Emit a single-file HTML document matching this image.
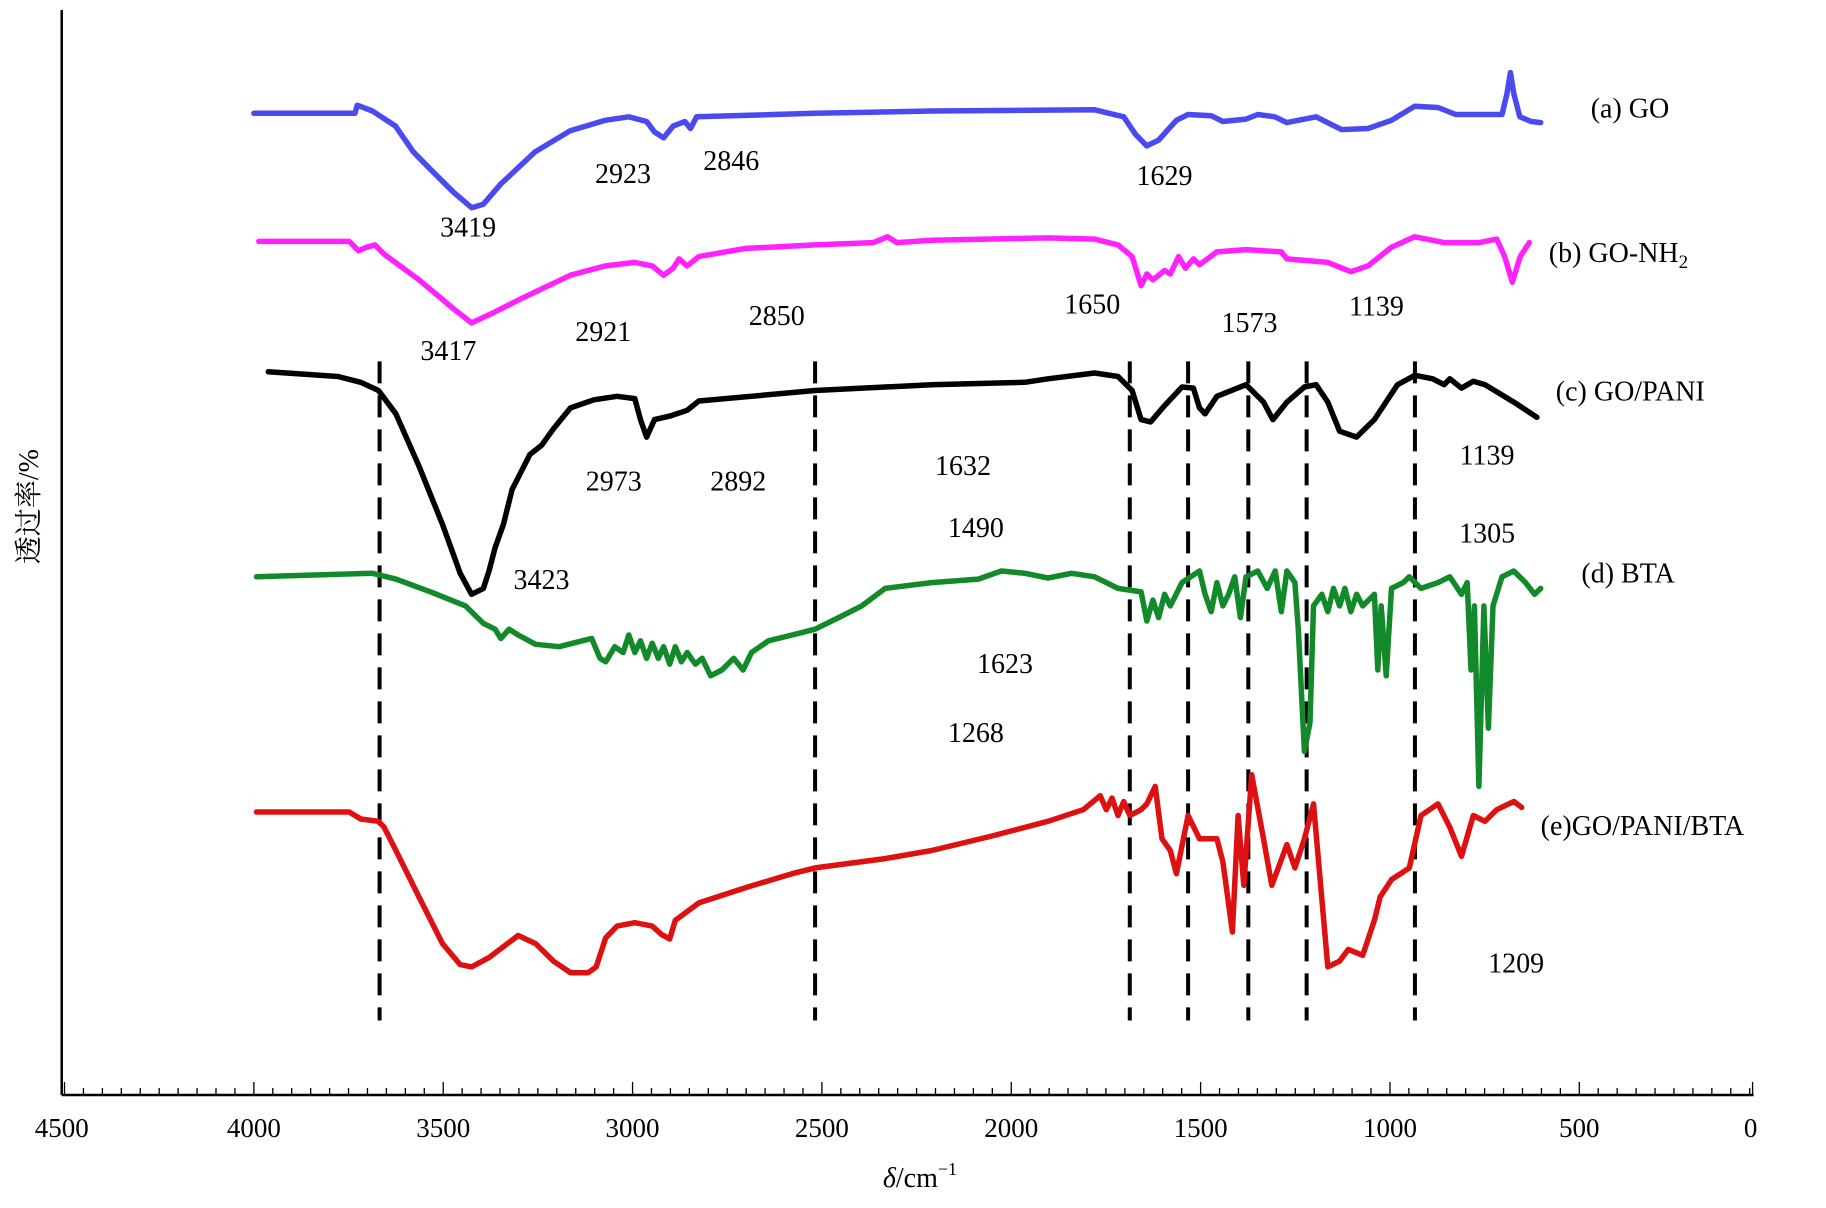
<!DOCTYPE html>
<html><head><meta charset="utf-8"><style>
html,body{margin:0;padding:0;background:#fff;}
svg{display:block;}
text{font-family:"Liberation Serif","Noto Serif CJK SC",serif;fill:#000;}
</style></head><body>
<svg id="c" width="1826" height="1208" viewBox="0 0 1826 1208"></svg>
<script>
const seriesGO=[[4000,843],[3733,843],[3727,850],[3687,845],[3626,832],[3579,810],[3534,795],[3472,775],[3425,762],[3394,765],[3349,782],[3257,810],[3165,828],[3072,837],[3010,840],[2963,836],[2942,827],[2918,822],[2893,832],[2862,836],[2847,830],[2831,840],[2518,843],[2210,845],[1780,846],[1703,840],[1672,825],[1642,815],[1611,820],[1564,837],[1533,842],[1472,841],[1441,836],[1380,838],[1349,842],[1304,840],[1272,835],[1195,840],[1128,829],[1058,830],[996,837],[935,849],[873,848],[826,842],[704,842],[691,860],[682,878],[673,860],[657,840],[627,836],[602,835]];
const seriesGONH2=[[3987,733],[3748,733],[3724,725],[3702,728],[3680,730],[3656,722],[3564,700],[3472,675],[3425,663],[3379,670],[3287,685],[3164,704],[3072,712],[2994,715],[2948,712],[2918,704],[2893,710],[2877,718],[2856,712],[2825,720],[2702,727],[2518,730],[2364,732],[2327,737],[2302,732],[2210,734],[1903,736],[1780,735],[1718,730],[1681,720],[1657,695],[1642,705],[1626,700],[1595,708],[1580,705],[1558,720],[1540,710],[1519,718],[1503,713],[1457,724],[1380,726],[1287,724],[1272,718],[1164,715],[1103,707],[1058,712],[996,728],[935,737],[857,732],[764,732],[718,735],[697,720],[677,698],[656,720],[632,732]];
const seriesGOPANI=[[3962,621],[3778,617],[3718,612],[3671,605],[3625,585],[3564,540],[3502,490],[3455,448],[3425,430],[3394,435],[3379,450],[3363,470],[3341,490],[3318,520],[3271,550],[3240,558],[3209,572],[3164,590],[3102,597],[3041,600],[2994,598],[2979,580],[2963,565],[2942,580],[2902,583],[2856,588],[2825,596],[2518,605],[2210,610],[1964,612],[1903,615],[1780,620],[1718,617],[1681,605],[1657,580],[1632,578],[1595,592],[1549,608],[1519,607],[1503,590],[1488,585],[1457,600],[1380,610],[1334,595],[1309,580],[1272,595],[1226,608],[1195,610],[1164,595],[1133,570],[1088,565],[1041,580],[980,610],[934,618],[887,615],[857,610],[842,615],[811,607],[780,613],[749,610],[673,595],[612,582]];
const seriesBTA=[[3993,445],[3687,448],[3625,443],[3533,432],[3441,420],[3394,405],[3363,400],[3348,392],[3326,400],[3302,395],[3256,387],[3194,385],[3133,390],[3108,392],[3086,375],[3071,372],[3047,385],[3025,380],[3010,395],[2994,380],[2979,390],[2963,375],[2948,388],[2932,375],[2918,385],[2902,370],[2887,385],[2871,372],[2856,380],[2834,370],[2816,375],[2794,360],[2764,365],[2733,375],[2708,365],[2686,380],[2641,390],[2579,395],[2518,400],[2456,410],[2395,420],[2333,435],[2210,440],[2087,443],[2026,450],[1964,448],[1903,444],[1841,448],[1780,445],[1718,435],[1657,432],[1642,407],[1626,425],[1611,410],[1595,430],[1580,420],[1549,440],[1503,450],[1488,430],[1472,415],[1457,440],[1441,420],[1426,430],[1410,445],[1395,410],[1380,445],[1349,450],[1324,435],[1303,450],[1287,415],[1272,450],[1251,440],[1242,400],[1226,295],[1211,320],[1202,420],[1180,430],[1164,415],[1149,435],[1133,420],[1119,435],[1103,415],[1088,430],[1072,420],[1041,430],[1032,365],[1023,420],[1010,360],[996,435],[965,440],[949,445],[918,435],[873,440],[842,445],[811,430],[796,440],[786,365],[777,420],[765,265],[752,420],[740,315],[728,420],[704,445],[673,450],[642,440],[618,430],[602,435]];
const seriesGOPANIBTA=[[3993,243],[3748,243],[3718,237],[3671,235],[3656,230],[3625,210],[3564,170],[3502,130],[3455,112],[3425,110],[3379,118],[3302,137],[3256,130],[3209,115],[3164,105],[3117,105],[3096,110],[3071,135],[3041,145],[2994,148],[2948,145],[2924,138],[2902,134],[2887,150],[2825,165],[2702,178],[2579,190],[2518,195],[2333,203],[2210,210],[2056,222],[1903,235],[1810,245],[1765,257],[1749,245],[1734,255],[1718,240],[1703,252],[1687,240],[1657,245],[1642,250],[1620,265],[1602,220],[1580,210],[1564,190],[1533,240],[1503,220],[1457,220],[1441,200],[1416,140],[1401,240],[1386,180],[1365,275],[1334,220],[1312,180],[1272,215],[1251,195],[1226,220],[1202,250],[1164,110],[1133,115],[1110,125],[1072,120],[1041,150],[1026,170],[996,185],[949,195],[918,240],[873,250],[842,230],[811,205],[780,240],[749,235],[718,245],[673,252],[652,247]];
const dashedWavenumbers=[3668,2518,1687,1533,1374,1220,934];
const xTickLabels=[4500,4000,3500,3000,2500,2000,1500,1000,500,0];

const svg=document.getElementById('c');
const NS='http://www.w3.org/2000/svg';
const S=1.1645,AXY=1095,XL=53*S,XR=1505*S;
function xs(w){return Math.min(XR,S*(218+(4000-w)*162.6/500));}
function ys(t){return AXY-t*S;}
function mk(tag,attrs,parent){const e=document.createElementNS(NS,tag);for(const k in attrs)e.setAttribute(k,attrs[k]);(parent||svg).appendChild(e);return e;}

let a=mk('line',{x1:XL,y1:AXY,x2:XR+1,y2:AXY,stroke:'#000','stroke-width':2.5});


a=mk('line',{x1:XL,y1:10,x2:XL,y2:AXY,stroke:'#000','stroke-width':2.5});


for(let w=50;w<=4500;w+=50){
  const major=w%500===0;
  const x=xs(w);
  if(x<XL-1)continue;
  const t=mk('line',{x1:x,y1:AXY,x2:x,y2:AXY-(major?13:7),stroke:'#000','stroke-width':1.3});
  
  
}
let et=mk('line',{x1:XR,y1:AXY,x2:XR,y2:AXY-13,stroke:'#000','stroke-width':1.3});


xTickLabels.forEach(v=>{
  const x=v===4500?XL:(v===0?XR-2:xs(v));
  const t=mk('text',{x:x,y:1137,'text-anchor':'middle','font-size':27});
  t.textContent=v;
  
  
});
dashedWavenumbers.forEach(w=>{
  const l=mk('line',{x1:xs(w),y1:ys(940-310),x2:xs(w),y2:ys(940-876),stroke:'#000','stroke-width':4,'stroke-dasharray':'22,12'});
  
  
});
const series=[['go-spectrum',seriesGO,'#4a4af0'],['go-nh2-spectrum',seriesGONH2,'#ff22ff'],['go-pani-spectrum',seriesGOPANI,'#000000'],['bta-spectrum',seriesBTA,'#128a2a'],['go-pani-bta-spectrum',seriesGOPANIBTA,'#dd1111']];
series.forEach(([name,data,col])=>{
  const p=mk('polyline',{points:data.map(d=>xs(d[0]).toFixed(1)+','+ys(d[1]).toFixed(1)).join(' '),fill:'none',stroke:col,'stroke-width':5.5,'stroke-linejoin':'round','stroke-linecap':'round'});
  
  
});
const labels=[['3419',402,194],['2923',535,148],['2846',628,137],['1629',1000,150],['3417',385,300],['2921',518,284],['2850',667,270],['1650',938,260],['1573',1073,276],['1139',1182,262],['2973',527,412],['2892',634,412],['1632',827,399],['1139',1277,390],['3423',465,497],['1490',838,452],['1305',1277,457],['1623',863,569],['1268',838,628],['1209',1302,826]];
labels.forEach(([t,x,y])=>{
  const e=mk('text',{x:x*S,y:(y+9)*S,'text-anchor':'middle','font-size':28});
  e.textContent=t;
  
  
});
const legends=[['(a) GO',1366,92],['(b) GO-NH',1330,216],['(c) GO/PANI',1336,335],['(d) BTA',1358,491],['(e)GO/PANI/BTA',1323,708]];
legends.forEach(([t,x,y],i)=>{
  const e=mk('text',{x:x*S,y:(y+9)*S,'font-size':28});
  e.textContent=t;
  if(i===1){const s=mk('tspan',{'font-size':19,dy:6},e);s.textContent='2';}
  
  
});
let yt=mk('text',{x:0,y:0,'font-size':28,'text-anchor':'middle',transform:`translate(${38},${435*S}) rotate(-90)`});
yt.textContent='透过率/%';


let xt=mk('text',{x:790*S,y:1187,'font-size':28,'text-anchor':'middle'});
xt.innerHTML='<tspan font-style="italic">δ</tspan>/cm<tspan font-size="18" dy="-12">−1</tspan>';


</script>
</body></html>
